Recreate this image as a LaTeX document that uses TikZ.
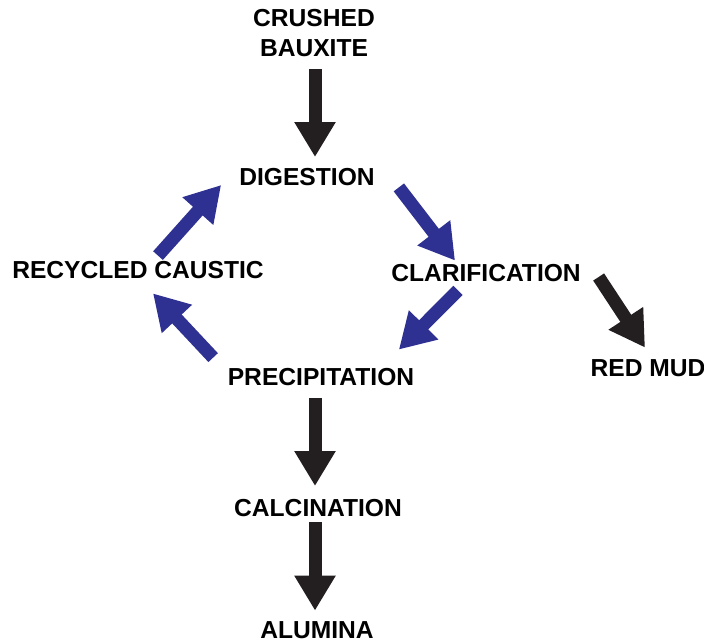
\documentclass[tikz,border=0pt]{standalone}
\usepackage{fontspec}
\setmainfont{Liberation Sans}
\usepackage{xcolor}
\usetikzlibrary{arrows.meta}

\definecolor{flowblue}{RGB}{46,49,146}
\definecolor{flowblack}{RGB}{35,31,32}

\begin{document}
\begin{tikzpicture}[x=1pt,y=-1pt,
    font=\fontsize{24.6}{30}\selectfont\bfseries,
    stage/.style={inner sep=0pt,text height=17.6pt,text depth=0pt},
    blackarrow/.style={draw=flowblack,line width=13pt,
        -{Triangle[length=35pt,width=39pt]},flowblack},
    bluearrow/.style={draw=flowblue,line width=13pt,
        -{Triangle[length=35pt,width=39pt]},flowblue}]

    \useasboundingbox (0,0) rectangle (704,643);

    \node[inner sep=0pt, align=center, anchor=north] (bauxite) at (314,9)
    { CRUSHED\\BAUXITE };

    \node[stage] (digestion) at (307,177)
    { DIGESTION };

    \node[stage] (clarification) at (486,273)
    { CLARIFICATION };

    \node[stage] (caustic) at (138,270)
    { RECYCLED CAUSTIC };

    \node[stage] (redmud) at (648,368)
    { RED MUD };

    \node[stage] (precipitation) at (321,377)
    { PRECIPITATION };

    \node[stage] (calcination) at (318,508)
    { CALCINATION };

    \node[stage] (alumina) at (317,630)
    { ALUMINA };

    \path[]
    {
        ([shift={(1,12)}]bauxite.south) edge[blackarrow] ([shift={(8,-11)}]digestion.north)
        ([shift={(24,1.4)}]digestion.south east) edge[bluearrow] ([shift={(64,-3.4)}]clarification.north west)
        ([shift={(17.7,4)}]clarification.east) edge[blackarrow] ([shift={(-3,-11.4)}]redmud.north)
        ([shift={(-28,8.4)}]clarification.south) edge[bluearrow] ([shift={(-15.5,-18.4)}]precipitation.north east)
        ([shift={(-14.5,-10.4)}]precipitation.north west) edge[bluearrow] ([shift={(15,14.4)}]caustic.south)
        ([shift={(20,-5.4)}]caustic.north) edge[bluearrow] ([shift={(-18,8)}]digestion.west)
        ([shift={(-6,12.4)}]precipitation.south) edge[blackarrow] ([shift={(-3,-13)}]calcination.north)
        ([shift={(-3,5.4)}]calcination.south) edge[blackarrow] ([shift={(-2,-10.4)}]alumina.north)
    };
\end{tikzpicture}
\end{document}
